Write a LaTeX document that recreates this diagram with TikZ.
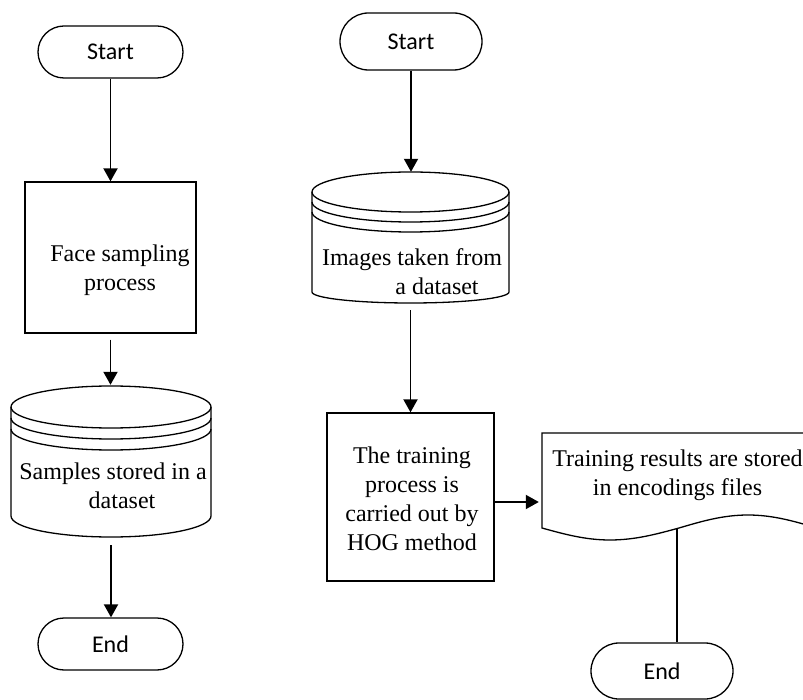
\documentclass[tikz,border=0pt]{standalone}
\usepackage{fontspec}
\setmainfont{Liberation Serif}
\newfontfamily\calib{Carlito}
\usetikzlibrary{arrows.meta,shapes.misc}
\begin{document}
\begin{tikzpicture}[x=1pt,y=1pt,
  outline/.style={draw=black,line width=1.3pt},
  term/.style={outline,rounded rectangle,inner sep=0pt,font=\calib\fontsize{24}{29}\selectfont},
  procbox/.style={outline,rectangle,inner sep=0pt},
  holder/.style={draw=none,rectangle,inner sep=0pt},
  txt/.style={inner sep=0pt,align=center,font=\fontsize{24}{29}\selectfont},
  arr/.style={line width=1.9pt,-{Triangle[length=13pt,width=14pt]}},
  plain/.style={line width=1.9pt}
]
\useasboundingbox (0,0) rectangle (803,-700);
\clip (0,0) rectangle (803,-700);

% ---------- left flow ----------
\node[term,minimum width=145pt,minimum height=52pt] (s1) at (110.5,-52) {Start};
\node[procbox,minimum width=171pt,minimum height=151pt] (b1) at (110.5,-257.5) {};
\node[txt] (t1) at (120,-270) {Face sampling\\process};
\node[holder,minimum width=200pt,minimum height=152pt] (c1) at (111,-461) {};
\draw[outline] (111,-407) ellipse[x radius=100pt,y radius=21pt];
\draw[outline] (11,-418) arc[start angle=180,end angle=360,x radius=100pt,y radius=21pt];
\draw[outline] (11,-429) arc[start angle=180,end angle=360,x radius=100pt,y radius=21pt];
\draw[outline] (11,-407) -- (11,-516) arc[start angle=180,end angle=360,x radius=100pt,y radius=21pt] -- (211,-407);
\node[txt] (t2) at (113,-486) {Samples stored in a\\\hspace*{18pt}dataset};
\node[term,minimum width=145pt,minimum height=52pt] (e1) at (110.5,-644) {End};

\draw[arr] (s1.south) -- (s1.south |- b1.north);
\draw[arr,shorten <=6pt] (b1.south) -- (b1.south |- c1.north);
\draw[arr,shorten <=8pt] (c1.south) -- (c1.south |- e1.north);

% ---------- right flow ----------
\node[term,minimum width=142pt,minimum height=57pt] (s2) at (411,-41.5) {Start};
\node[holder,minimum width=197pt,minimum height=131pt] (c2) at (410.5,-237.5) {};
\draw[outline] (410.5,-192) ellipse[x radius=98.5pt,y radius=20pt];
\draw[outline] (312,-202) arc[start angle=180,end angle=360,x radius=98.5pt,y radius=20pt];
\draw[outline] (312,-212) arc[start angle=180,end angle=360,x radius=98.5pt,y radius=20pt];
\draw[outline] (312,-192) -- (312,-292) arc[start angle=180,end angle=360,x radius=98.5pt,y radius=11pt] -- (509,-192);
\node[txt] (t3) at (412,-272) {Images taken from\\\hspace*{50pt}a dataset};

\node[procbox,minimum width=167pt,minimum height=168pt] (b2) at (410.5,-497) {};
\node[txt] (t4) at (412,-498.5) {The training\\process is\\carried out by\\HOG method};

\node[holder,minimum width=275pt,minimum height=95pt] (d2) at (679.5,-480.5) {};
\draw[outline] (542,-528) -- (542,-433) -- (830,-433) -- (830,-528)
  -- (817,-528) sin (748,-515) cos (679,-528) sin (610,-540) cos (542,-528) -- cycle;
\node[txt] (t5) at (677.5,-475) {Training results are stored\\in encodings files};

\node[term,minimum width=142pt,minimum height=56pt] (e2) at (662,-671) {End};

\draw[arr] (s2.south) -- (s2.south |- c2.north);
\draw[arr,shorten <=7pt] (c2.south) -- (c2.south |- b2.north);
\coordinate (ab) at ([yshift=-5pt]b2.east);
\draw[arr,shorten >=3pt] (ab) -- (ab -| d2.west);
\coordinate (dbot) at (677,-528);
\draw[plain] (dbot) -- (dbot |- e2.north);
\end{tikzpicture}
\end{document}
